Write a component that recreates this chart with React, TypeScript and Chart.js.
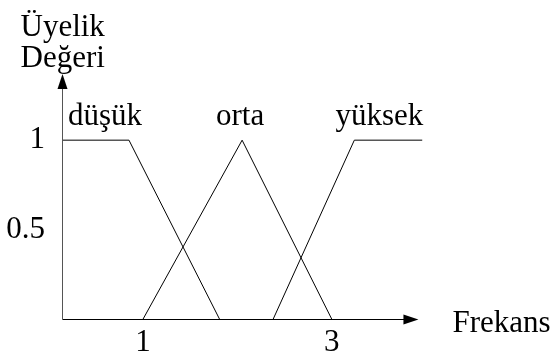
import React, { useEffect, useRef } from "react";
import { Chart, registerables } from "chart.js";

Chart.register(...registerables);

const FONT_FAMILY = "'Liberation Serif', 'Times New Roman', serif";
const FONT_SIZE = 31;

// axis ranges (data units)
const xRange = [0.14, 4.0];
const yRange = [0, 1.37];
const xArrowEnd = 3.92;

// tick labels
const xTickValues = [1, 3];
const yTickValues = [0.5, 1];

// titles
const yTitleLines = ["Üyelik", "Değeri"];
const xTitle = "Frekans";

// membership functions
const seriesNames = ["düşük", "orta", "yüksek"];
const dusukX = [0.14, 0.85, 1.81];
const dusukY = [1, 1, 0];
const ortaX = [1, 2.05, 3];
const ortaY = [0, 1, 0];
const yuksekX = [2.38, 3.24, 3.96];
const yuksekY = [0, 1, 1];

const toPoints = (xs: number[], ys: number[]) => xs.map((x, i) => ({ x, y: ys[i] }));

const fuzzyPlugin = {
  id: "fuzzyDecor",
  afterDraw(chart: any) {
    const ctx = chart.ctx as CanvasRenderingContext2D;
    const xs = chart.scales.x;
    const ys = chart.scales.y;
    const x0 = Math.round(xs.getPixelForValue(xRange[0])) + 0.5;
    const y0 = Math.round(ys.getPixelForValue(0)) + 0.5;
    const yTop = ys.getPixelForValue(yRange[1]);
    const xTip = xs.getPixelForValue(xArrowEnd);
    ctx.save();
    ctx.fillStyle = "#000";
    ctx.lineWidth = 1;
    // axes
    ctx.strokeStyle = "#000";
    ctx.beginPath();
    ctx.moveTo(x0, y0);
    ctx.lineTo(xTip - 14, y0);
    ctx.stroke();
    ctx.strokeStyle = "#555";
    ctx.beginPath();
    ctx.moveTo(x0, y0);
    ctx.lineTo(x0, yTop + 14);
    ctx.stroke();
    // arrow heads
    ctx.beginPath();
    ctx.moveTo(xTip, y0);
    ctx.lineTo(xTip - 15, y0 - 5);
    ctx.lineTo(xTip - 15, y0 + 5);
    ctx.closePath();
    ctx.fill();
    ctx.beginPath();
    ctx.moveTo(x0, yTop);
    ctx.lineTo(x0 - 5, yTop + 15);
    ctx.lineTo(x0 + 5, yTop + 15);
    ctx.closePath();
    ctx.fill();

    ctx.font = `${FONT_SIZE}px ${FONT_FAMILY}`;
    ctx.textBaseline = "alphabetic";
    // y title
    ctx.textAlign = "left";
    ctx.fillText(yTitleLines[0], x0 - 42, yTop - 38);
    ctx.fillText(yTitleLines[1], x0 - 42, yTop - 7);
    // x title
    ctx.fillText(xTitle, xTip + 34, y0 + 12);

    // series labels
    const labelY = ys.getPixelForValue(1) - 15;
    chart.data.datasets.forEach((ds: any, i: number) => {
      const meta = chart.getDatasetMeta(i);
      const pts = meta.data;
      if (i === 0) {
        ctx.textAlign = "left";
        ctx.fillText(ds.label, pts[0].x + 6, labelY);
      } else if (i === 1) {
        ctx.textAlign = "center";
        ctx.fillText(ds.label, pts[1].x - 2, labelY);
      } else {
        ctx.textAlign = "right";
        ctx.fillText(ds.label, pts[pts.length - 1].x + 1, labelY);
      }
    });
    ctx.restore();
  },
};

export default function App() {
  const canvasRef = useRef<HTMLCanvasElement | null>(null);

  useEffect(() => {
    document.body.style.margin = "0";
    const canvas = canvasRef.current;
    if (!canvas) return;
    const lineDs = (label: string, xs: number[], ys: number[]) => ({
      label,
      data: toPoints(xs, ys),
      borderColor: "#000",
      borderWidth: 1,
      pointRadius: 0,
      fill: false,
      tension: 0,
      clip: false as any,
    });
    const chart = new Chart(canvas, {
      type: "line",
      data: {
        datasets: [
          lineDs(seriesNames[0], dusukX, dusukY),
          lineDs(seriesNames[1], ortaX, ortaY),
          lineDs(seriesNames[2], yuksekX, yuksekY),
        ],
      },
      options: {
        animation: false,
        responsive: false,
        devicePixelRatio: 1,
        layout: { padding: { top: 74, right: 126, left: 0, bottom: 0 } },
        plugins: { legend: { display: false }, tooltip: { enabled: false }, title: { display: false } },
        scales: {
          x: {
            type: "linear",
            min: xRange[0],
            max: xRange[1],
            border: { display: false },
            grid: { display: false, drawTicks: false },
            afterBuildTicks: (s: any) => {
              s.ticks = xTickValues.map((v) => ({ value: v }));
            },
            afterFit: (s: any) => {
              s.height = 37;
            },
            ticks: {
              autoSkip: false,
              maxRotation: 0,
              padding: 5,
              color: "#000",
              font: { family: FONT_FAMILY, size: FONT_SIZE },
              callback: (v: any) => String(v),
            },
          },
          y: {
            type: "linear",
            min: yRange[0],
            max: yRange[1],
            border: { display: false },
            grid: { display: false, drawTicks: false },
            afterBuildTicks: (s: any) => {
              s.ticks = yTickValues.map((v) => ({ value: v }));
            },
            afterFit: (s: any) => {
              s.width = 62;
            },
            ticks: {
              autoSkip: false,
              padding: 17,
              color: "#000",
              font: { family: FONT_FAMILY, size: FONT_SIZE },
              callback: (v: any) => String(v),
            },
          },
        },
      },
      plugins: [fuzzyPlugin],
    });
    return () => chart.destroy();
  }, []);

  return (
    <div style={{ width: 552, height: 356, background: "#fff" }}>
      <canvas ref={canvasRef} width={552} height={356} style={{ display: "block" }} />
    </div>
  );
}
